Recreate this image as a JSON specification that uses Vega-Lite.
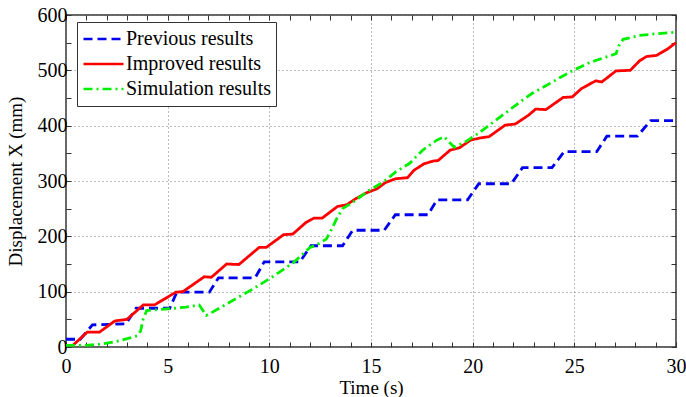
{
  "$schema": "https://vega.github.io/schema/vega-lite/v6.json",
  "width": 610,
  "height": 332,
  "autosize": {"type": "none"},
  "padding": {"left": 66, "top": 15, "right": 10, "bottom": 50},
  "background": "white",
  "config": {
    "view": {"stroke": "#333", "strokeWidth": 1.5},
    "font": "Liberation Serif",
    "axis": {"labelFont": "Liberation Serif", "titleFont": "Liberation Serif", "labelColor": "black", "titleColor": "black", "labelFontSize": 20, "titleFontSize": 19, "titleFontWeight": "normal", "domain": false, "tickColor": "#333", "tickWidth": 1, "gridDash": [1, 3], "gridWidth": 1}
  },
  "data": {"values": [
    {"s": "Previous results", "t": 0, "v": 14},
    {"s": "Previous results", "t": 0.7, "v": 14},
    {"s": "Previous results", "t": 1.3, "v": 40},
    {"s": "Previous results", "t": 2.95, "v": 42},
    {"s": "Previous results", "t": 3.45, "v": 70},
    {"s": "Previous results", "t": 5.1, "v": 70},
    {"s": "Previous results", "t": 5.45, "v": 99},
    {"s": "Previous results", "t": 7.05, "v": 99},
    {"s": "Previous results", "t": 7.5, "v": 125},
    {"s": "Previous results", "t": 9.3, "v": 125},
    {"s": "Previous results", "t": 9.75, "v": 154},
    {"s": "Previous results", "t": 11.5, "v": 154},
    {"s": "Previous results", "t": 12.05, "v": 183},
    {"s": "Previous results", "t": 13.6, "v": 183},
    {"s": "Previous results", "t": 14.1, "v": 211},
    {"s": "Previous results", "t": 15.65, "v": 211},
    {"s": "Previous results", "t": 16.2, "v": 239},
    {"s": "Previous results", "t": 17.8, "v": 239},
    {"s": "Previous results", "t": 18.25, "v": 266},
    {"s": "Previous results", "t": 19.75, "v": 266},
    {"s": "Previous results", "t": 20.3, "v": 295},
    {"s": "Previous results", "t": 21.9, "v": 295},
    {"s": "Previous results", "t": 22.45, "v": 324},
    {"s": "Previous results", "t": 23.9, "v": 324},
    {"s": "Previous results", "t": 24.5, "v": 353},
    {"s": "Previous results", "t": 26.1, "v": 353},
    {"s": "Previous results", "t": 26.6, "v": 381},
    {"s": "Previous results", "t": 28.1, "v": 381},
    {"s": "Previous results", "t": 28.75, "v": 409},
    {"s": "Previous results", "t": 30, "v": 409},
    {"s": "Improved results", "t": 0.25, "v": 0},
    {"s": "Improved results", "t": 1.05, "v": 27},
    {"s": "Improved results", "t": 1.65, "v": 27},
    {"s": "Improved results", "t": 2.4, "v": 47},
    {"s": "Improved results", "t": 3.0, "v": 50},
    {"s": "Improved results", "t": 3.8, "v": 76},
    {"s": "Improved results", "t": 4.35, "v": 76},
    {"s": "Improved results", "t": 5.4, "v": 99},
    {"s": "Improved results", "t": 5.75, "v": 100},
    {"s": "Improved results", "t": 6.8, "v": 127},
    {"s": "Improved results", "t": 7.15, "v": 126},
    {"s": "Improved results", "t": 7.9, "v": 150},
    {"s": "Improved results", "t": 8.5, "v": 149},
    {"s": "Improved results", "t": 9.5, "v": 180},
    {"s": "Improved results", "t": 9.85, "v": 180},
    {"s": "Improved results", "t": 10.7, "v": 203},
    {"s": "Improved results", "t": 11.15, "v": 204},
    {"s": "Improved results", "t": 11.8, "v": 225},
    {"s": "Improved results", "t": 12.2, "v": 233},
    {"s": "Improved results", "t": 12.6, "v": 233},
    {"s": "Improved results", "t": 13.35, "v": 254},
    {"s": "Improved results", "t": 13.8, "v": 257},
    {"s": "Improved results", "t": 14.25, "v": 268},
    {"s": "Improved results", "t": 14.8, "v": 279},
    {"s": "Improved results", "t": 15.3, "v": 286},
    {"s": "Improved results", "t": 15.7, "v": 297},
    {"s": "Improved results", "t": 16.2, "v": 304},
    {"s": "Improved results", "t": 16.8, "v": 306},
    {"s": "Improved results", "t": 17.1, "v": 319},
    {"s": "Improved results", "t": 17.6, "v": 331},
    {"s": "Improved results", "t": 18.05, "v": 336},
    {"s": "Improved results", "t": 18.3, "v": 337},
    {"s": "Improved results", "t": 18.9, "v": 356},
    {"s": "Improved results", "t": 19.35, "v": 360},
    {"s": "Improved results", "t": 19.9, "v": 374},
    {"s": "Improved results", "t": 20.4, "v": 378},
    {"s": "Improved results", "t": 20.8, "v": 380},
    {"s": "Improved results", "t": 21.6, "v": 401},
    {"s": "Improved results", "t": 22.1, "v": 403},
    {"s": "Improved results", "t": 22.75, "v": 419},
    {"s": "Improved results", "t": 23.1, "v": 430},
    {"s": "Improved results", "t": 23.6, "v": 429},
    {"s": "Improved results", "t": 24.45, "v": 451},
    {"s": "Improved results", "t": 24.9, "v": 452},
    {"s": "Improved results", "t": 25.35, "v": 467},
    {"s": "Improved results", "t": 26.05, "v": 481},
    {"s": "Improved results", "t": 26.35, "v": 479},
    {"s": "Improved results", "t": 27.05, "v": 499},
    {"s": "Improved results", "t": 27.75, "v": 500},
    {"s": "Improved results", "t": 28.2, "v": 517},
    {"s": "Improved results", "t": 28.55, "v": 525},
    {"s": "Improved results", "t": 29.05, "v": 527},
    {"s": "Improved results", "t": 29.6, "v": 539},
    {"s": "Improved results", "t": 30, "v": 550},
    {"s": "Simulation results", "t": 0, "v": 3},
    {"s": "Simulation results", "t": 1.0, "v": 3},
    {"s": "Simulation results", "t": 1.65, "v": 5},
    {"s": "Simulation results", "t": 2.15, "v": 8},
    {"s": "Simulation results", "t": 2.6, "v": 11},
    {"s": "Simulation results", "t": 3.2, "v": 17},
    {"s": "Simulation results", "t": 3.5, "v": 20},
    {"s": "Simulation results", "t": 3.67, "v": 29},
    {"s": "Simulation results", "t": 3.8, "v": 51},
    {"s": "Simulation results", "t": 3.97, "v": 66},
    {"s": "Simulation results", "t": 4.4, "v": 67},
    {"s": "Simulation results", "t": 5.0, "v": 69},
    {"s": "Simulation results", "t": 5.9, "v": 72},
    {"s": "Simulation results", "t": 6.55, "v": 76},
    {"s": "Simulation results", "t": 6.9, "v": 57},
    {"s": "Simulation results", "t": 7.2, "v": 63},
    {"s": "Simulation results", "t": 8.2, "v": 84},
    {"s": "Simulation results", "t": 9.2, "v": 105},
    {"s": "Simulation results", "t": 10.2, "v": 128},
    {"s": "Simulation results", "t": 11.2, "v": 153},
    {"s": "Simulation results", "t": 12.0, "v": 180},
    {"s": "Simulation results", "t": 12.3, "v": 184},
    {"s": "Simulation results", "t": 12.8, "v": 195},
    {"s": "Simulation results", "t": 13.0, "v": 208},
    {"s": "Simulation results", "t": 13.3, "v": 231},
    {"s": "Simulation results", "t": 13.6, "v": 250},
    {"s": "Simulation results", "t": 14.2, "v": 264},
    {"s": "Simulation results", "t": 14.9, "v": 283},
    {"s": "Simulation results", "t": 15.6, "v": 298},
    {"s": "Simulation results", "t": 16.2, "v": 316},
    {"s": "Simulation results", "t": 16.9, "v": 332},
    {"s": "Simulation results", "t": 17.55, "v": 356},
    {"s": "Simulation results", "t": 18.2, "v": 373},
    {"s": "Simulation results", "t": 18.6, "v": 380},
    {"s": "Simulation results", "t": 18.85, "v": 370},
    {"s": "Simulation results", "t": 19.1, "v": 361},
    {"s": "Simulation results", "t": 19.7, "v": 372},
    {"s": "Simulation results", "t": 20.35, "v": 388},
    {"s": "Simulation results", "t": 21.0, "v": 406},
    {"s": "Simulation results", "t": 21.65, "v": 424},
    {"s": "Simulation results", "t": 22.3, "v": 442},
    {"s": "Simulation results", "t": 22.95, "v": 459},
    {"s": "Simulation results", "t": 23.6, "v": 472},
    {"s": "Simulation results", "t": 24.3, "v": 487},
    {"s": "Simulation results", "t": 24.95, "v": 500},
    {"s": "Simulation results", "t": 25.75, "v": 514},
    {"s": "Simulation results", "t": 26.55, "v": 524},
    {"s": "Simulation results", "t": 27.05, "v": 530},
    {"s": "Simulation results", "t": 27.2, "v": 545},
    {"s": "Simulation results", "t": 27.4, "v": 556},
    {"s": "Simulation results", "t": 28.2, "v": 563},
    {"s": "Simulation results", "t": 29.0, "v": 566},
    {"s": "Simulation results", "t": 30, "v": 569}
  ]},
  "resolve": {"axis": {"x": "independent", "y": "independent"}},
  "layer": [
    {
      "mark": {"type": "line", "strokeWidth": 2.8, "clip": true},
      "encoding": {
        "x": {"field": "t", "type": "quantitative", "scale": {"domain": [0, 30], "nice": false},
          "axis": {"orient": "bottom", "title": "Time (s)", "values": [0,1,2,3,4,5,6,7,8,9,10,11,12,13,14,15,16,17,18,19,20,21,22,23,24,25,26,27,28,29,30],
            "labelExpr": "datum.value % 5 === 0 ? datum.label : ''", "tickSize": -5, "labelPadding": 14, "titlePadding": 2, "labelFlush": false,
            "gridColor": {"condition": {"test": "datum.value % 5 === 0", "value": "#777777"}, "value": "rgba(0,0,0,0)"}}},
        "y": {"field": "v", "type": "quantitative", "scale": {"domain": [0, 600], "nice": false},
          "axis": {"orient": "left", "title": "Displacement X (mm)", "values": [0,50,100,150,200,250,300,350,400,450,500,550,600],
            "labelExpr": "datum.value % 100 === 0 ? datum.label : ''", "tickSize": -5, "labelPadding": 4, "titlePadding": 12, "labelFlush": false,
            "gridColor": {"condition": {"test": "datum.value % 100 === 0", "value": "#777777"}, "value": "rgba(0,0,0,0)"}}},
        "color": {"field": "s", "type": "nominal", "sort": ["Previous results", "Improved results", "Simulation results"],
          "scale": {"domain": ["Previous results", "Improved results", "Simulation results"], "range": ["#0000ee", "#ff0000", "#00ee00"]},
          "legend": {"orient": "none", "legendX": 11, "legendY": 7, "title": null, "symbolType": "stroke", "symbolSize": 1600, "symbolStrokeWidth": 2.6,
            "labelFont": "Liberation Serif", "labelFontSize": 20, "labelColor": "black", "labelOffset": 1, "clipHeight": 24, "rowPadding": 1,
            "padding": 5, "strokeColor": "#333", "fillColor": "white"}},
        "strokeDash": {"field": "s", "type": "nominal",
          "scale": {"domain": ["Previous results", "Improved results", "Simulation results"], "range": [[9, 5], [1, 0], [9, 4, 2, 4]]},
          "legend": null}
      }
    },
    {
      "mark": {"type": "line", "strokeOpacity": 0},
      "encoding": {
        "x": {"field": "t", "type": "quantitative",
          "axis": {"orient": "top", "title": null, "labels": false, "grid": false, "tickSize": -5, "values": [0,1,2,3,4,5,6,7,8,9,10,11,12,13,14,15,16,17,18,19,20,21,22,23,24,25,26,27,28,29,30]}},
        "y": {"field": "v", "type": "quantitative",
          "axis": {"orient": "right", "title": null, "labels": false, "grid": false, "tickSize": -5, "values": [0,50,100,150,200,250,300,350,400,450,500,550,600]}},
        "detail": {"field": "s"}
      }
    }
  ]
}
